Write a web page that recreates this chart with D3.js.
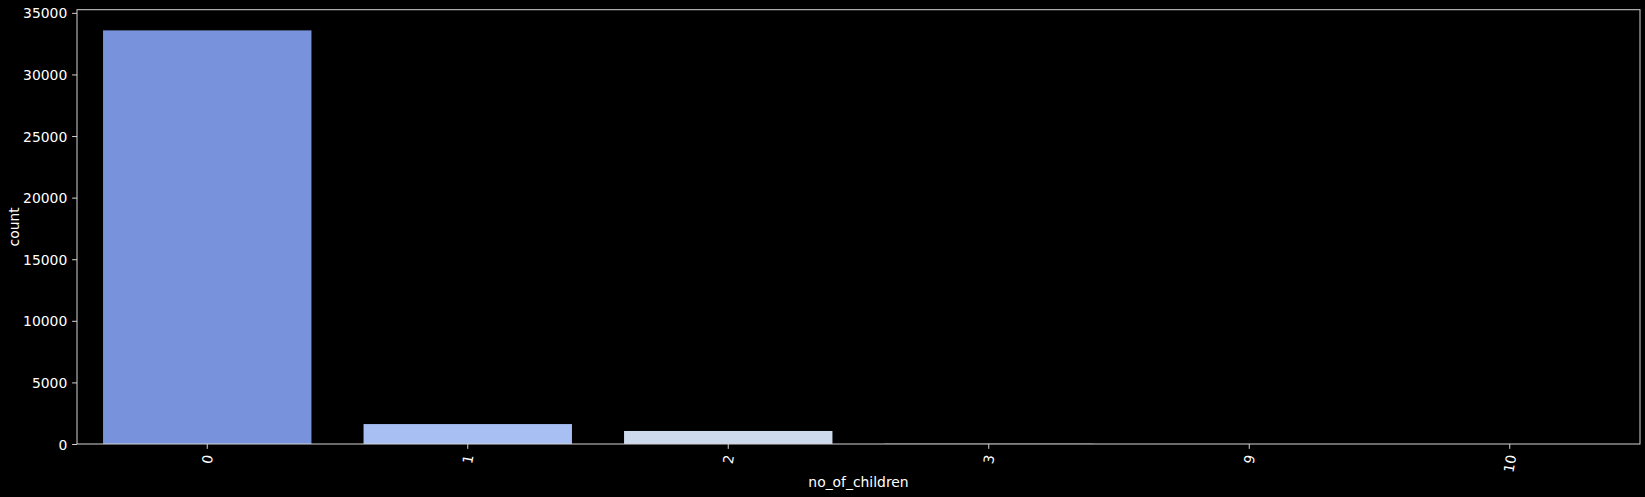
<!DOCTYPE html>
<html>
<head>
<meta charset="utf-8">
<script src="https://cdn.jsdelivr.net/npm/d3@7"></script>
<style>
  html, body { margin: 0; padding: 0; background: #000; }
  svg { display: block; }
</style>
</head>
<body>
<svg id="chart" width="1645" height="497"></svg>
<script>
const categories = ["0", "1", "2", "3", "9", "10"];
const counts = [33577, 1618, 1058, 19, 2, 1];
const barColors = ["#7893dc", "#a7bff3", "#cdd9ed", "#e6d3c9", "#e6a58c", "#d0715f"];
const yTicks = [0, 5000, 10000, 15000, 20000, 25000, 30000, 35000];
const xTitle = "no_of_children";
const yTitle = "count";

const W = 1645, H = 497;
const plotLeft = 77, plotRight = 1640, plotTop = 9.7, plotBottom = 444;
const fontSize = 13.9;
const fontFam = "DejaVu Sans";
const textColor = "#ffffff";
const spineColor = "#d4d4d4";
const tickLen = 4.86, tickPad = 4.86;

const svg = d3.select("#chart");
svg.append("rect").attr("width", W).attr("height", H).attr("fill", "#000");

const x = d3.scaleBand().domain(categories).range([plotLeft, plotRight]).paddingInner(0.2).paddingOuter(0.1);
const yMax = d3.max(counts) * 1.05;
const y = d3.scaleLinear().domain([0, yMax]).range([plotBottom, plotTop]);

// bars
svg.append("g").selectAll("rect").data(categories).join("rect")
  .attr("x", d => x(d))
  .attr("width", x.bandwidth())
  .attr("y", (d, i) => y(counts[i]))
  .attr("height", (d, i) => plotBottom - y(counts[i]))
  .attr("fill", (d, i) => barColors[i]);

// y axis
const yAxis = d3.axisLeft(y).tickValues(yTicks).tickSize(tickLen).tickPadding(tickPad).tickFormat(d3.format("d"));
const gy = svg.append("g").attr("transform", `translate(${plotLeft},0)`).call(yAxis)
  .attr("font-size", fontSize).attr("font-family", fontFam);
gy.select(".domain").remove();
gy.selectAll(".tick line").attr("stroke", spineColor).attr("stroke-width", 1);
gy.selectAll(".tick text").attr("fill", textColor).attr("dy", "0.36em");

// x axis
const xAxis = d3.axisBottom(x).tickSize(tickLen).tickPadding(0);
const gx = svg.append("g").attr("transform", `translate(0,${plotBottom})`).call(xAxis)
  .attr("font-size", fontSize).attr("font-family", fontFam);
gx.select(".domain").remove();
gx.selectAll(".tick line").attr("stroke", spineColor).attr("stroke-width", 1);
const rot = 80 * Math.PI / 180;
gx.selectAll(".tick text").each(function(d) {
  const t = d3.select(this);
  t.attr("fill", textColor)
   .attr("text-anchor", "middle").attr("dominant-baseline", "central").attr("y", null).attr("dy", null);
  const w = this.getComputedTextLength();
  const h = w * Math.sin(rot) + fontSize * 1.0 * Math.cos(rot);
  const cy = tickLen + tickPad + h / 2;
  t.attr("transform", `translate(0,${cy}) rotate(-80)`);
});

// spines
svg.append("rect").attr("x", plotLeft).attr("y", plotTop).attr("width", plotRight - plotLeft).attr("height", plotBottom - plotTop)
  .attr("fill", "none").attr("stroke", spineColor).attr("stroke-width", 1);

// axis titles
svg.append("text").attr("x", (plotLeft + plotRight) / 2).attr("y", 487).attr("text-anchor", "middle")
  .attr("font-size", fontSize).attr("font-family", fontFam).attr("fill", textColor).text(xTitle);
svg.append("text").attr("transform", `translate(18.5,${(plotTop + plotBottom) / 2}) rotate(-90)`)
  .attr("text-anchor", "middle").attr("font-size", fontSize).attr("font-family", fontFam)
  .attr("fill", textColor).text(yTitle);
</script>
</body>
</html>
